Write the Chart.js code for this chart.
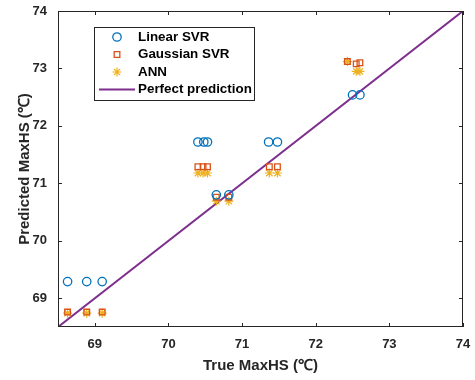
<!DOCTYPE html>
<html>
<head>
<meta charset="utf-8">
<script src="https://cdn.jsdelivr.net/npm/chart.js@4"></script>
<style>
  body { margin: 0; background: #fff; }
  #wrap { width: 475px; height: 380px; }
</style>
</head>
<body>
<div id="wrap"><canvas id="myChart"></canvas></div>
<script>
// values (true vs predicted MaxHS, ℃)
const linearX = [68.63, 68.89, 69.10, 70.40, 70.48, 70.53, 71.36, 71.48, 70.65, 70.82, 72.50, 72.60];
const linearY = [69.29, 69.29, 69.29, 71.72, 71.72, 71.72, 71.72, 71.72, 70.80, 70.80, 72.54, 72.54];
const gaussX = [68.63, 68.89, 69.10, 70.40, 70.47, 70.53, 71.37, 71.48, 70.65, 70.82, 72.43, 72.55, 72.60];
const gaussY = [68.76, 68.76, 68.76, 71.29, 71.29, 71.29, 71.29, 71.29, 70.76, 70.76, 73.12, 73.08, 73.10];
const annX = [68.63, 68.89, 69.10, 70.40, 70.47, 70.53, 71.37, 71.48, 70.65, 70.82, 72.43, 72.55, 72.60];
const annY = [68.74, 68.74, 68.74, 71.18, 71.18, 71.18, 71.18, 71.18, 70.69, 70.69, 73.12, 72.95, 72.95];
const perfectLine = [68.5, 74];
const tickValues = [69, 70, 71, 72, 73, 74];

const pts = (xs, ys) => xs.map((x, i) => ({ x: x, y: ys[i] }));
const axisColor = '#262626';

// matlab-like inward ticks on all four sides + legend box
const decor = {
  id: 'decor',
  afterDraw(chart) {
    const c = chart.ctx, a = chart.chartArea;
    const xs = chart.scales.x, ys = chart.scales.y;
    c.save();
    c.strokeStyle = axisColor;
    c.lineWidth = 1;
    c.strokeRect(a.left + 0.5, a.top + 0.5, a.right - a.left - 1, a.bottom - a.top - 1);
    c.beginPath();
    tickValues.forEach(v => {
      const px = Math.round(xs.getPixelForValue(v)) + 0.5;
      c.moveTo(px, a.bottom); c.lineTo(px, a.bottom - 4);
      c.moveTo(px, a.top); c.lineTo(px, a.top + 4);
      const py = Math.round(ys.getPixelForValue(v)) + 0.5;
      c.moveTo(a.left, py); c.lineTo(a.left + 4, py);
      c.moveTo(a.right, py); c.lineTo(a.right - 4, py);
    });
    c.stroke();

    // legend
    const bx = 94, by = 27, bw = 160, bh = 73;
    c.fillStyle = '#fff';
    c.fillRect(bx, by, bw, bh);
    c.strokeStyle = axisColor;
    c.strokeRect(bx + 0.5, by + 0.5, bw, bh);
    c.font = 'bold 13.4px "Liberation Sans", Arial, sans-serif';
    c.textBaseline = 'middle';
    chart.data.datasets.forEach((ds, i) => {
      const y = by + 10 + i * 17.5;
      const mx = 117;
      c.fillStyle = '#000';
      c.fillText(ds.label, 138, y);
      if (ds.type === 'line') {
        c.strokeStyle = ds.borderColor;
        c.lineWidth = 2;
        c.beginPath(); c.moveTo(99, y); c.lineTo(135, y); c.stroke();
      } else {
        c.fillStyle = 'rgba(0,0,0,0)';
        c.strokeStyle = ds.borderColor;
        c.lineWidth = ds.borderWidth;
        Chart.helpers.drawPoint(c, {
          pointStyle: ds.pointStyle, radius: ds.pointRadius,
          borderWidth: ds.borderWidth
        }, mx, y);
      }
    });
    c.restore();
  }
};

const noPad = s => { s.paddingLeft = 0; s.paddingRight = 0; s.paddingTop = 0; s.paddingBottom = 0; };

new Chart(document.getElementById('myChart'), {
  type: 'scatter',
  data: {
    datasets: [
      {
        label: 'Linear SVR',
        data: pts(linearX, linearY),
        pointStyle: 'circle', pointRadius: 4.2, borderWidth: 1.3,
        borderColor: '#0072BD', backgroundColor: 'rgba(0,0,0,0)'
      },
      {
        label: 'Gaussian SVR',
        data: pts(gaussX, gaussY),
        pointStyle: 'rect', pointRadius: 4, borderWidth: 1.3,
        borderColor: '#D95319', backgroundColor: 'rgba(0,0,0,0)'
      },
      {
        label: 'ANN',
        data: pts(annX, annY),
        pointStyle: 'star', pointRadius: 4.5, borderWidth: 1.2,
        borderColor: '#EDB120', backgroundColor: 'rgba(0,0,0,0)'
      },
      {
        type: 'line',
        label: 'Perfect prediction',
        data: pts(perfectLine, perfectLine),
        borderColor: '#7E2F8E', borderWidth: 2,
        pointRadius: 0, fill: false
      }
    ]
  },
  options: {
    responsive: true,
    maintainAspectRatio: false,
    animation: false,
    layout: { padding: { top: 11, right: 12 } },
    plugins: {
      legend: { display: false },
      tooltip: { enabled: false }
    },
    scales: {
      x: {
        type: 'linear', min: 68.5, max: 74,
        afterBuildTicks: s => { s.ticks = tickValues.map(v => ({ value: v })); },
        afterFit: s => { s.height = 53; noPad(s); },
        grid: { display: false, drawTicks: false },
        border: { display: false },
        ticks: {
          color: axisColor, padding: 10,
          font: { family: '"Liberation Sans", Arial, sans-serif', size: 13, weight: 'bold' }
        },
        title: {
          display: true, text: 'True MaxHS (℃)', color: axisColor,
          padding: { top: 0, bottom: 5 },
          font: { family: '"Liberation Sans", Arial, sans-serif', size: 15, weight: 'bold' }
        }
      },
      y: {
        type: 'linear', min: 68.5, max: 74,
        afterBuildTicks: s => { s.ticks = tickValues.map(v => ({ value: v })); },
        afterFit: s => { s.width = 58; noPad(s); },
        grid: { display: false, drawTicks: false },
        border: { display: false },
        ticks: {
          color: axisColor, padding: 11,
          font: { family: '"Liberation Sans", Arial, sans-serif', size: 13, weight: 'bold' }
        },
        title: {
          display: true, text: 'Predicted MaxHS (℃)', color: axisColor,
          padding: { top: 16, bottom: 0 },
          font: { family: '"Liberation Sans", Arial, sans-serif', size: 15, weight: 'bold' }
        }
      }
    }
  },
  plugins: [decor]
});
</script>
</body>
</html>
